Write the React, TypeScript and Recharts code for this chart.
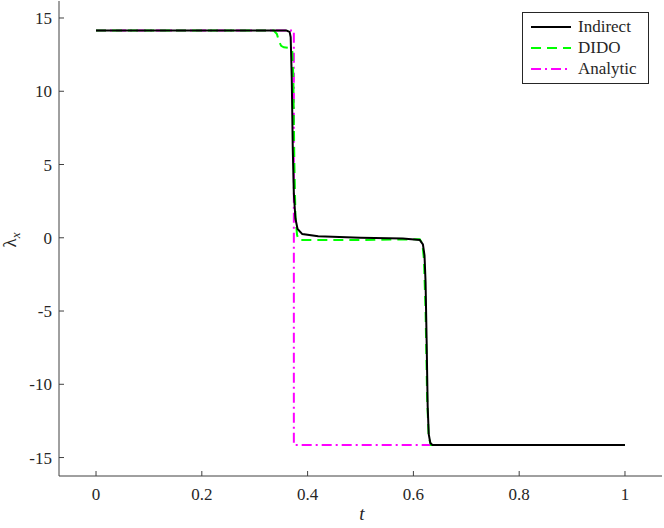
import React from 'react';
import {
  LineChart,
  Line,
  XAxis,
  YAxis,
  Label,
} from 'recharts';

// time samples and costate values
const indirectT = [0, 0.2, 0.36, 0.366, 0.368, 0.37, 0.372, 0.374, 0.377, 0.381, 0.39, 0.42, 0.5, 0.58, 0.612, 0.618, 0.621, 0.623, 0.625, 0.627, 0.629, 0.632, 0.636, 0.8, 1];
const indirectY = [14.14, 14.14, 14.14, 14.05, 13.7, 11, 6, 3, 1.3, 0.6, 0.25, 0.1, 0.0, -0.05, -0.15, -0.45, -1.2, -3, -7, -11.5, -13.4, -14.0, -14.14, -14.14, -14.14];

const didoT = [0, 0.2, 0.336, 0.342, 0.346, 0.35, 0.355, 0.365, 0.371, 0.373, 0.375, 0.377, 0.38, 0.383, 0.5, 0.612, 0.617, 0.62, 0.623, 0.626, 0.629, 0.633, 0.8, 1];
const didoY = [14.14, 14.14, 14.14, 13.9, 13.4, 13.1, 13.0, 12.95, 12.8, 11, 5, 1.5, 0.2, -0.15, -0.15, -0.1, -0.4, -1.5, -5, -11, -13.6, -14.14, -14.14, -14.14];

const analyticT = [0, 0.374, 0.374, 1];
const analyticY = [14.14, 14.14, -14.14, -14.14];

const xTicks = [0, 0.2, 0.4, 0.6, 0.8, 1];
const yTicks = [-15, -10, -5, 0, 5, 10, 15];

const zip = (t: number[], y: number[]) => t.map((v, i) => ({ t: v, y: y[i] }));
const indirect = zip(indirectT, indirectY);
const dido = zip(didoT, didoY);
const analytic = zip(analyticT, analyticY);

const FONT = 'Liberation Serif';
const AXIS = '#404040';
const TEXT = '#262626';

const series = [
  { name: 'Indirect', color: '#000000', dash: undefined as string | undefined },
  { name: 'DIDO', color: '#00ff00', dash: '10 6' },
  { name: 'Analytic', color: '#ff00ff', dash: '10 4 2 4' },
];

const LegendBox = () => (
  <div
    style={{
      position: 'absolute',
      top: 12,
      left: 522,
      width: 127,
      boxSizing: 'border-box',
      border: '1px solid #262626',
      background: '#fff',
      padding: '3px 4px 4px 8px',
      fontFamily: FONT,
      fontSize: 17,
      color: TEXT,
      lineHeight: '21px',
    }}
  >
    {series.map((s) => (
      <div key={s.name} style={{ display: 'flex', alignItems: 'center' }}>
        <svg width={42} height={10} style={{ marginRight: 5 }}>
          <line x1={0} y1={5} x2={40} y2={5} stroke={s.color} strokeWidth={2} strokeDasharray={s.dash} />
        </svg>
        <span>{s.name}</span>
      </div>
    ))}
  </div>
);

const XTick = (props: any) => {
  const { x, y, payload } = props;
  return (
    <text x={x} y={y + 12} textAnchor='middle' fontFamily={FONT} fontSize='17px' fill={TEXT}>
      {payload.value}
    </text>
  );
};

const YTick = (props: any) => {
  const { x, y, payload } = props;
  return (
    <text x={x} y={y + 6} textAnchor='end' fontFamily={FONT} fontSize='17px' fill={TEXT}>
      {payload.value}
    </text>
  );
};

const YLabel = () => (
  <text
    x={16}
    y={240}
    transform='rotate(-90 16 240)'
    textAnchor='middle'
    fontFamily={FONT}
    fontSize='19px'
    fill={TEXT}
  >
    λ
    <tspan fontSize='13px' fontStyle='italic' dy={4}>x</tspan>
  </text>
);

const XLabel = () => (
  <text x={362} y={520} textAnchor='middle' fontFamily={FONT} fontSize='19px' fontStyle='italic' fill={TEXT}>
    t
  </text>
);

const App = () => {
  return (
    <div style={{ position: 'absolute', left: 0, top: 0, fontFamily: FONT }}>
      <LineChart width={664} height={528} margin={{ top: 1, right: 2, bottom: 0, left: 0 }}>
        <XAxis
          dataKey='t'
          type='number'
          domain={[-0.07, 1.07]}
          ticks={xTicks}
          allowDataOverflow
          height={52}
          tickSize={-5}
          tickMargin={17}
          tick={XTick}
          stroke={AXIS}
        >
          <Label content={XLabel} />
        </XAxis>
        <XAxis
          xAxisId='top'
          orientation='top'
          dataKey='t'
          type='number'
          domain={[-0.07, 1.07]}
          ticks={xTicks}
          allowDataOverflow
          height={0}
          tickSize={-5}
          tickFormatter={() => ''}
          stroke={AXIS}
        />
        <YAxis
          type='number'
          domain={[-16.26, 16.16]}
          ticks={yTicks}
          allowDataOverflow
          width={59}
          tickSize={-5}
          tickMargin={12}
          tick={YTick}
          stroke={AXIS}
        >
          <Label content={YLabel} />
        </YAxis>
        <YAxis
          yAxisId='right'
          orientation='right'
          type='number'
          domain={[-16.26, 16.16]}
          ticks={yTicks}
          allowDataOverflow
          width={0}
          tickSize={-5}
          tickFormatter={() => ''}
          stroke={AXIS}
        />
        <Line data={analytic} dataKey='y' name='Analytic' type='linear' stroke='#ff00ff' strokeWidth={2} strokeDasharray='10 4 2 4' dot={false} isAnimationActive={false} />
        <Line data={dido} dataKey='y' name='DIDO' type='linear' stroke='#00ff00' strokeWidth={2} strokeDasharray='10 6' dot={false} isAnimationActive={false} />
        <Line data={indirect} dataKey='y' name='Indirect' type='linear' stroke='#000000' strokeWidth={2} dot={false} isAnimationActive={false} />
      </LineChart>
      <LegendBox />
    </div>
  );
};

export default App;
